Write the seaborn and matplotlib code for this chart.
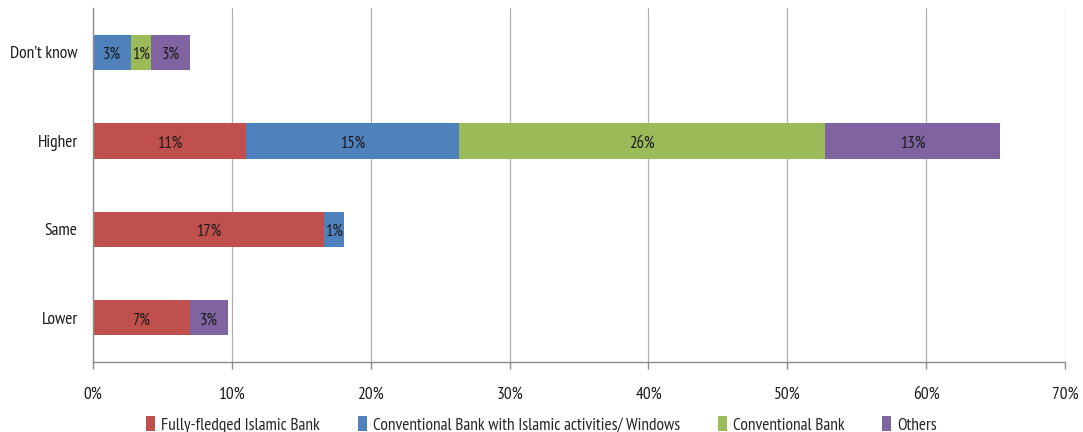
import matplotlib
matplotlib.use("Agg")
import matplotlib.pyplot as plt
import seaborn as sns
import pandas as pd
import numpy as np
from matplotlib.patches import Patch
from matplotlib.ticker import FuncFormatter, FixedLocator

categories = ["Don\u2019t know", "Higher", "Same", "Lower"]
series_names = ["Fully-fledged Islamic Bank",
                "Conventional Bank with Islamic activities/ Windows",
                "Conventional Bank", "Others"]
islamic = [0.0, 11.04, 16.64, 6.95]
windows = [2.76, 15.3, 1.41, 0.0]
conventional = [1.44, 26.4, 0.0, 0.0]
others = [2.78, 12.6, 0.0, 2.78]
colors = ["#C0504D", "#4F81BD", "#9BBB59", "#8064A2"]
x_ticks = [0, 10, 20, 30, 40, 50, 60, 70]

sns.set_theme(style="white")
plt.rcParams['font.family'] = ['PT Sans Narrow', 'Carlito', 'DejaVu Sans']

series = [islamic, windows, conventional, others]
cum = np.cumsum(np.array(series), axis=0)

fig = plt.figure(figsize=(10.83, 4.32), dpi=100)
ax = fig.add_axes([0.0859, 0.162, 0.8975, 0.819])

# draw cumulative bars from the outermost to innermost
for i in range(len(series) - 1, -1, -1):
    df = pd.DataFrame({"cat": categories, "val": cum[i]})
    sns.barplot(data=df, x="val", y="cat", orient="h", color=colors[i],
                width=0.4, saturation=1, ax=ax, order=categories,
                edgecolor="none", linewidth=0)

# segment labels
for i, s in enumerate(series):
    for j, v in enumerate(s):
        if v > 0:
            start = cum[i][j] - v
            ax.text(start + v / 2, j + 0.03, f"{int(round(v))}%", ha="center",
                    va="center", fontsize=12, color="#1a1a1a")

ax.set_xlim(0, 70)
ax.set_ylim(3.5, -0.5)
ax.set_xticks(x_ticks)
ax.xaxis.set_major_formatter(FuncFormatter(lambda v, p: f"{int(v)}%"))
ax.grid(axis="x", color="#B0B0B0", linewidth=0.9)
ax.set_axisbelow(True)
ax.set_xlabel("")
ax.set_ylabel("")

for sp in ["top", "right"]:
    ax.spines[sp].set_visible(False)
for sp in ["left", "bottom"]:
    ax.spines[sp].set_color("#8C8C8C")
    ax.spines[sp].set_linewidth(1.0)

ax.tick_params(axis="y", which="major", length=0, pad=11, labelsize=12.5,
               labelcolor="#1a1a1a")
ax.yaxis.set_minor_locator(FixedLocator([0.5, 1.5, 2.5, 3.5]))
ax.tick_params(axis="y", which="minor", length=5, color="#8C8C8C", width=1)
ax.tick_params(axis="x", which="major", length=5, color="#8C8C8C", width=1,
               pad=13, labelsize=12.5, labelcolor="#1a1a1a", direction="out")
ax.tick_params(axis="x", bottom=True)

handles = [Patch(facecolor=c, edgecolor="none") for c in colors]
fig.legend(handles, series_names, loc="lower center",
           bbox_to_anchor=(0.5, -0.04), ncol=4, frameon=False,
           fontsize=12.5, handlelength=0.5, handleheight=0.9,
           handletextpad=0.35, columnspacing=2.2)

fig.savefig("out.png", dpi=100)
